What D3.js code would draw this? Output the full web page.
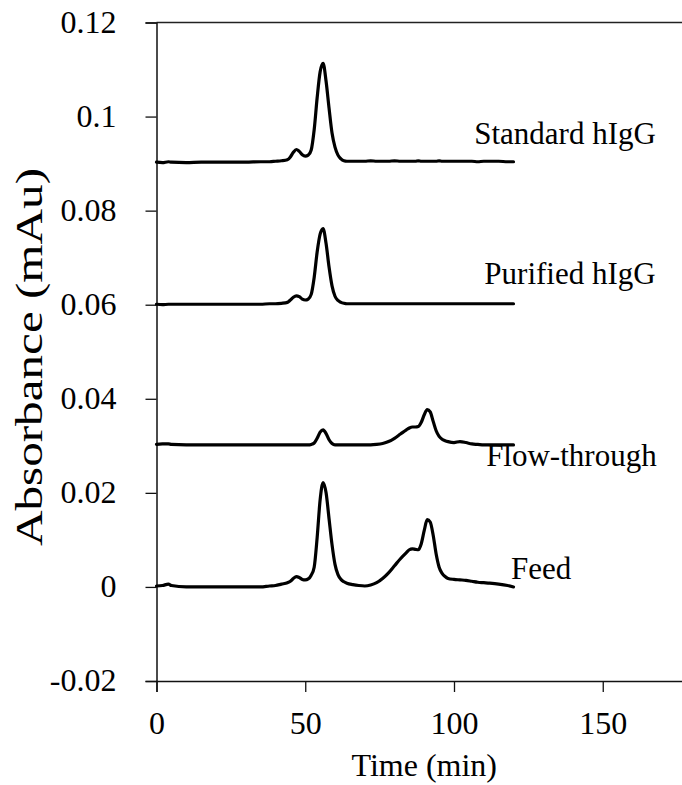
<!DOCTYPE html>
<html>
<head>
<meta charset="utf-8">
<script src="https://cdn.jsdelivr.net/npm/d3@7"></script>
<style>
  html, body { margin: 0; padding: 0; background: #fff; }
  svg { display: block; }
  text { font-family: "Liberation Serif", "Times New Roman", serif; fill: #000; }
</style>
</head>
<body>
<svg id="chart" width="682" height="785"></svg>
<script>
// ---- data ----
const times = [0,2,4,5,10,15,20,25,30,35,38,40,42,44,
  45,46,47,48,49,50,51,52,53,54,55,56,57,58,59,60,61,62,63,64,
  66,68,70,72,74,76,78,80,82,84,
  85,86,87,88,89,90,91,92,93,94,95,96,97,98,
  100,102,104,106,108,110,112,115,118,120];

const standardHIgG = [0.0903,0.0902,0.0904,0.0903,0.0902,0.0903,0.0903,0.0903,0.0903,0.0904,0.0904,0.0905,0.0906,0.0908,
  0.0914,0.0924,0.0930,0.0926,0.0919,0.0916,0.0918,0.0929,0.0972,0.1040,0.1095,0.1113,0.1075,0.1018,0.0965,0.0935,0.0918,0.0910,0.0906,0.0905,
  0.0905,0.0905,0.0905,0.0906,0.0905,0.0905,0.0905,0.0906,0.0905,0.0905,
  0.0905,0.0905,0.0905,0.0906,0.0905,0.0905,0.0905,0.0905,0.0905,0.0905,0.0906,0.0905,0.0905,0.0905,
  0.0905,0.0905,0.0905,0.0905,0.0904,0.0905,0.0905,0.0905,0.0904,0.0904];

const purifiedHIgG = [0.0601,0.0600,0.0601,0.0601,0.0601,0.0601,0.0601,0.0601,0.0601,0.0601,0.0602,0.0602,0.0603,0.0605,
  0.0610,0.0616,0.0619,0.0617,0.0612,0.0610,0.0612,0.0622,0.0658,0.0712,0.0750,0.0762,0.0730,0.0680,0.0640,0.0618,0.0609,0.0605,0.0603,0.0602,
  0.0602,0.0602,0.0602,0.0602,0.0602,0.0602,0.0602,0.0602,0.0602,0.0602,
  0.0602,0.0602,0.0602,0.0602,0.0602,0.0602,0.0602,0.0602,0.0602,0.0602,0.0602,0.0602,0.0602,0.0602,
  0.0602,0.0602,0.0602,0.0602,0.0602,0.0602,0.0602,0.0602,0.0602,0.0602];

const flowThrough = [0.0303,0.0304,0.0304,0.0303,0.0302,0.0302,0.0302,0.0302,0.0302,0.0302,0.0302,0.0302,0.0302,0.0302,
  0.0302,0.0302,0.0302,0.0302,0.0302,0.0302,0.0302,0.0303,0.0306,0.0316,0.0329,0.0334,0.0326,0.0313,0.0305,0.0302,0.0302,0.0302,0.0302,0.0302,
  0.0302,0.0302,0.0302,0.0302,0.0303,0.0305,0.0309,0.0316,0.0325,0.0334,
  0.0338,0.0340,0.0340,0.0341,0.0350,0.0366,0.0377,0.0372,0.0352,0.0332,0.0320,0.0314,0.0311,0.0309,
  0.0307,0.0309,0.0307,0.0304,0.0303,0.0302,0.0302,0.0302,0.0302,0.0302];

const feed = [0.0002,0.0003,0.0006,0.0003,0.0000,0.0000,0.0000,0.0000,0.0000,0.0000,0.0002,0.0003,0.0006,0.0009,
  0.0012,0.0018,0.0022,0.0020,0.0016,0.0015,0.0017,0.0025,0.0042,0.0105,0.0185,0.0222,0.0200,0.0145,0.0090,0.0048,0.0026,0.0016,0.0011,0.0008,
  0.0005,0.0003,0.0002,0.0004,0.0009,0.0018,0.0030,0.0045,0.0060,0.0073,
  0.0079,0.0081,0.0080,0.0079,0.0092,0.0120,0.0143,0.0138,0.0110,0.0070,0.0042,0.0029,0.0022,0.0018,
  0.0016,0.0015,0.0014,0.0012,0.0010,0.0009,0.0008,0.0006,0.0003,0.0000];

const seriesNames = ["Standard hIgG", "Purified hIgG", "Flow-through", "Feed"];
const seriesValues = [standardHIgG, purifiedHIgG, flowThrough, feed];

const xTicks = [0, 50, 100, 150];
const yTicks = [-0.02, 0, 0.02, 0.04, 0.06, 0.08, 0.1, 0.12];
const yTickLabels = ["-0.02", "0", "0.02", "0.04", "0.06", "0.08", "0.1", "0.12"];
const xTitle = "Time (min)";
const yTitle = "Absorbance (mAu)";

// ---- layout ----
const svg = d3.select("#chart");
const x = d3.scaleLinear().domain([0, 180]).range([156.5, 156.5 + 180 * 2.975]);
const y = d3.scaleLinear().domain([-0.02, 0.12]).range([681, 22.5]);

// frame top line
svg.append("line")
  .attr("x1", x(0)).attr("x2", 682)
  .attr("y1", y(0.12)).attr("y2", y(0.12))
  .attr("stroke", "#222").attr("stroke-width", 1.3);

// y axis
const yAxis = svg.append("g")
  .attr("transform", `translate(${x(0)},0)`)
  .call(d3.axisLeft(y).tickValues(yTicks).tickSize(11).tickPadding(29)
    .tickFormat((d, i) => yTickLabels[i]));
yAxis.select(".domain").attr("stroke", "#111").attr("stroke-width", 1.5);
yAxis.selectAll(".tick line").attr("stroke", "#111").attr("stroke-width", 1.3);
yAxis.selectAll(".tick text")
  .style("font-family", '"Liberation Serif", serif')
  .style("font-size", "32px").attr("fill", "#000").attr("dy", "0.31em");

// x axis
const xAxis = svg.append("g")
  .attr("transform", `translate(0,${y(-0.02)})`)
  .call(d3.axisBottom(x).tickValues(xTicks).tickSize(11).tickPadding(19)
    .tickFormat(d3.format("d")));
xAxis.select(".domain").attr("stroke", "#111").attr("stroke-width", 1.5);
xAxis.selectAll(".tick line").attr("stroke", "#111").attr("stroke-width", 1.3);
xAxis.selectAll(".tick text")
  .style("font-family", '"Liberation Serif", serif')
  .style("font-size", "32px").attr("fill", "#000").attr("dy", "0.71em");

// axis titles
svg.append("text")
  .attr("x", x(90)).attr("y", 776)
  .attr("text-anchor", "middle")
  .style("font-size", "32px")
  .text(xTitle);

svg.append("text")
  .attr("transform", `translate(42,357) rotate(-90)`)
  .attr("text-anchor", "middle")
  .attr("textLength", 378)
  .attr("lengthAdjust", "spacingAndGlyphs")
  .style("font-size", "38px")
  .text(yTitle);

// traces
const line = d3.line()
  .x((d, i) => x(times[i]))
  .y(d => y(d))
  .curve(d3.curveMonotoneX);

seriesValues.forEach(vals => {
  svg.append("path")
    .datum(vals)
    .attr("d", line)
    .attr("fill", "none")
    .attr("stroke", "#000")
    .attr("stroke-width", 3.2)
    .attr("stroke-linejoin", "round")
    .attr("stroke-linecap", "round");
});

// series labels
const labelAnchorT = [106.8, 110.2, 110.8, 119.2];
const labelAnchorV = [0.0942, 0.0645, 0.0258, 0.0017];
seriesNames.forEach((name, i) => {
  svg.append("text")
    .attr("x", x(labelAnchorT[i]))
    .attr("y", y(labelAnchorV[i]))
    .style("font-size", "31px")
    .text(name);
});
</script>
</body>
</html>
